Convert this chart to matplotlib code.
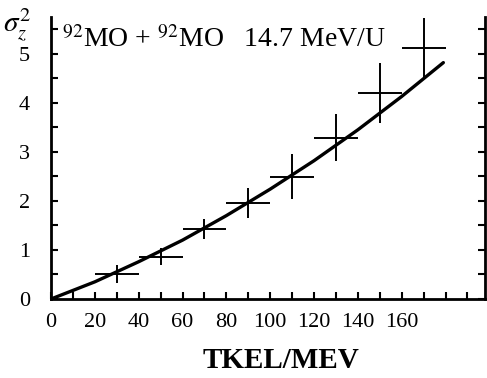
import numpy as np
import matplotlib
matplotlib.use('Agg')
from matplotlib import pyplot as plt
from matplotlib.ticker import MultipleLocator, FixedLocator

plt.rcParams['font.family'] = ['Liberation Serif', 'DejaVu Serif']
plt.rcParams['mathtext.fontset'] = 'stix'

# measured points (TKEL, sigma_z^2) with error bars
tkel = [30, 50, 70, 90, 110, 130, 150, 170]
sig2 = [0.51, 0.86, 1.43, 1.96, 2.49, 3.29, 4.20, 5.12]
xerr = [10, 10, 10, 10, 10, 10, 10, 10]
yerr = [0.18, 0.17, 0.20, 0.30, 0.46, 0.48, 0.61, 0.61]

# smooth curve
curve_x = [0, 20, 40, 60, 80, 100, 120, 140, 160, 179]
curve_y = [0.0, 0.35, 0.76, 1.20, 1.70, 2.24, 2.82, 3.45, 4.13, 4.82]

xtick_labels = ['0', '20', '40', '60', '80', '100', '120', '140', '160']

fig = plt.figure(figsize=(4.87, 3.78), dpi=100)
ax = fig.add_axes([51/487, 79/378, 434/487, 282/378])

ax.errorbar(tkel, sig2, xerr=xerr, yerr=yerr, fmt='none', ecolor='black',
            elinewidth=1.4, capsize=0)
ax.plot(curve_x, curve_y, color='black', lw=2.4, solid_capstyle='round')

ax.set_xlim(0, 198)
ax.set_ylim(0, 5.75)

ax.xaxis.set_major_locator(FixedLocator(np.arange(0, 161, 20)))
ax.set_xticklabels(xtick_labels)
ax.xaxis.set_minor_locator(FixedLocator(np.arange(10, 200, 10)))
ax.yaxis.set_major_locator(MultipleLocator(1))
ax.yaxis.set_minor_locator(MultipleLocator(0.5))

ax.tick_params(which='both', direction='in', length=5, width=1.5,
               left=True, right=True, bottom=True, top=False)
ax.tick_params(axis='x', which='major', labelsize=16, pad=10)
ax.tick_params(axis='y', which='major', labelsize=16, pad=15)

ax.spines['top'].set_visible(False)
for s in ['left', 'right', 'bottom']:
    ax.spines[s].set_linewidth(2)

fig.text(0.006, 1 - 31/378, r'$\sigma_z^2$', fontsize=21, va='baseline')
fig.text(62/487, 1 - 47/378, r'$^{92}$MO + $^{92}$MO   14.7 MeV/U',
         fontsize=20, va='baseline')
fig.text(281/487, 1 - 361/378, 'TKEL/MEV', fontsize=21, fontweight='bold',
         ha='center', va='center')

fig.savefig('out.png', dpi=100)
